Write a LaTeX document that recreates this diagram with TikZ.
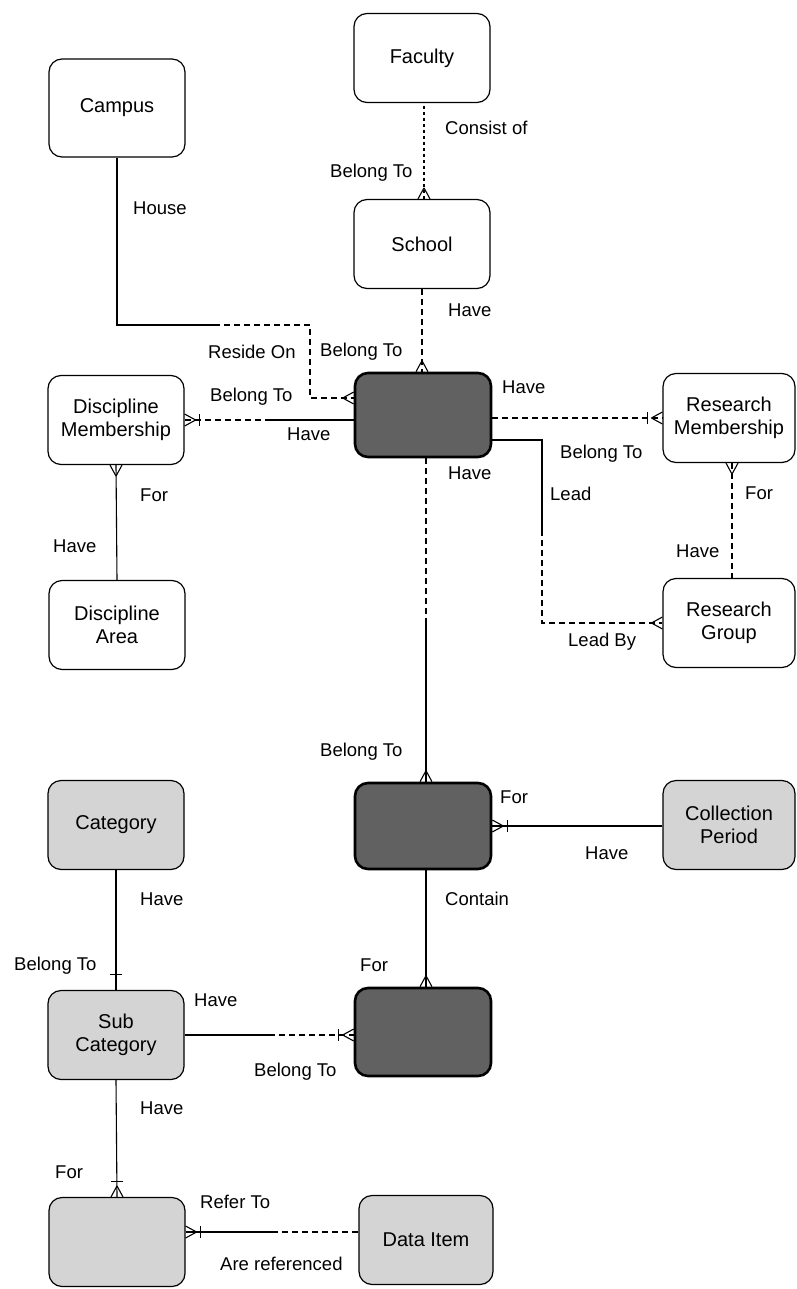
\documentclass[tikz,border=0pt]{standalone}
\usepackage{fontspec}
\setmainfont{Liberation Sans}
\usetikzlibrary{calc}
\begin{document}
\begin{tikzpicture}[x=1pt,y=-1pt,
  box/.style={draw, rounded corners=13pt, minimum width=136pt, minimum height=89pt, line width=1.2pt, align=center, font=\fontsize{20}{23}\selectfont, inner sep=0pt},
  darkbox/.style={box, fill=black!62, line width=2.6pt},
  lightbox/.style={box, fill=black!17},
  lbl/.style={anchor=west, font=\fontsize{18.5}{21}\selectfont, inner sep=0pt},
  ln/.style={line width=1.1pt},
  dl/.style={ln, dash pattern=on 6pt off 4pt},
  pics/crow/.style={code={\draw[ln,solid] (-11,0) -- (0,6) (-11,0) -- (0,-6);}},
  pics/bar/.style={code={\draw[ln,solid] (-15,-6) -- (-15,6);}},
]
\useasboundingbox (0,0) rectangle (796,1289);

% entities
\node[box] (faculty) at (422,58) {Faculty};
\node[box, minimum height=98pt] (campus) at (117,108) {Campus};
\node[box] (school) at (422,244) {School};
\node[darkbox, minimum height=84pt] (staff) at (423,415) {};
\node[box] (dm) at (116,420) {Discipline\\Membership};
\node[box, minimum width=132pt] (rm) at (729,418) {Research\\Membership};
\node[box] (da) at (117,625) {Discipline\\Area};
\node[box, minimum width=132pt] (rg) at (729,623) {Research\\Group};
\node[darkbox, minimum height=86pt] (dark2) at (423,826) {};
\node[lightbox, minimum width=132pt] (cp) at (729,825) {Collection\\Period};
\node[lightbox] (cat) at (116,825) {Category};
\node[lightbox] (sub) at (116,1035) {Sub\\Category};
\node[darkbox, minimum height=88pt] (dark3) at (423,1032) {};
\node[lightbox] (ca) at (117,1242) {};
\node[lightbox, minimum width=134pt] (di) at (426,1240) {Data Item};

% helper coordinates
\coordinate (k1) at (310,325);
\coordinate (k2) at (214,325);
\coordinate (r1) at (542,440);
\coordinate (r2) at (542,530);

% Faculty - School
\draw[dl, dash pattern=on 3pt off 3pt] ([xshift=2pt]school.north) -- ([xshift=2pt]school.north |- faculty.south);
\pic[rotate=-90] at ([xshift=2pt]school.north) {crow};
\node[lbl] at (445,128) {Consist of};
\node[lbl] at (330,173) {Belong To};

% Campus - Staff
\draw[ln] (campus.south) |- (k2);
\draw[dl] (k2) -- (k1) |- ([yshift=17pt]staff.west);
\pic at ([yshift=17pt]staff.west) {crow};
\node[lbl] at (133,208) {House};
\node[lbl] at (208,352) {Reside On};

% School - Staff
\draw[dl] (school.south) -- (school.south |- staff.north);
\pic[rotate=-90] at (school.south |- staff.north) {crow};
\node[lbl] at (448,310) {Have};
\node[lbl] at (320,352) {Belong To};

% Discipline Membership - Staff
\draw[dl] (dm.east) -- ($(dm.east)!0.5!(dm.east -| staff.west)$);
\draw[ln] ($(dm.east)!0.5!(dm.east -| staff.west)$) -- (dm.east -| staff.west);
\pic[rotate=180] at (dm.east) {crow};
\pic[rotate=180] at (dm.east) {bar};
\node[lbl] at (210,397) {Belong To};
\node[lbl] at (287,434) {Have};

% Staff - Research Membership
\draw[dl] (rm.west -| staff.east) -- (rm.west);
\pic at (rm.west) {crow};
\pic at (rm.west) {bar};
\node[lbl] at (502,387) {Have};
\node[lbl] at (560,454) {Belong To};

% Discipline Membership - Discipline Area
\draw[ln] (dm.south) -- (da.north);
\pic[rotate=90] at (dm.south) {crow};
\node[lbl] at (140,495) {For};
\node[lbl] at (53,546) {Have};

% Staff - Research Group
\draw[ln] ([yshift=-25pt]staff.east) -- (r1) -- (r2);
\draw[dl] (r2) |- (rg.west);
\pic at (rg.west) {crow};
\node[lbl] at (550,494) {Lead};
\node[lbl] at (568,642) {Lead By};

% Research Membership - Research Group
\draw[dl] ([xshift=3pt]rm.south) -- ([xshift=3pt]rg.north);
\pic[rotate=90] at ([xshift=3pt]rm.south) {crow};
\node[lbl] at (745,493) {For};
\node[lbl] at (676,551) {Have};

% Staff - dark2
\coordinate (s2mid) at ($([xshift=3pt]staff.south)!0.5!([xshift=3pt]dark2.north)$);
\draw[dl] ([xshift=3pt]staff.south) -- (s2mid);
\draw[ln] (s2mid) -- ([xshift=3pt]dark2.north);
\pic[rotate=-90] at ([xshift=3pt]dark2.north) {crow};
\node[lbl] at (448,473) {Have};
\node[lbl] at (320,752) {Belong To};

% dark2 - Collection Period
\draw[ln] (dark2.east) -- (dark2.east -| cp.west);
\pic[rotate=180] at (dark2.east) {crow};
\pic[rotate=180] at (dark2.east) {bar};
\node[lbl] at (500,797) {For};
\node[lbl] at (585,853) {Have};

% dark2 - dark3
\draw[ln] ([xshift=3pt]dark2.south) -- ([xshift=3pt]dark3.north);
\pic[rotate=-90] at ([xshift=3pt]dark3.north) {crow};
\node[lbl] at (445,899) {Contain};
\node[lbl] at (360,965) {For};

% Category - Sub Category
\draw[ln] (cat.south) -- (sub.north);
\pic[rotate=-90] at (sub.north) {bar};
\node[lbl] at (140,899) {Have};
\node[lbl] at (14,966) {Belong To};

% Sub Category - dark3
\draw[ln] (sub.east) -- ($(sub.east)!0.5!(sub.east -| dark3.west)$);
\draw[dl] ($(sub.east)!0.5!(sub.east -| dark3.west)$) -- (sub.east -| dark3.west);
\pic at (sub.east -| dark3.west) {crow};
\pic at (sub.east -| dark3.west) {bar};
\node[lbl] at (194,1000) {Have};
\node[lbl] at (254,1072) {Belong To};

% Sub Category - bottom-left entity
\draw[ln] (sub.south) -- (ca.north);
\pic[rotate=-90] at (ca.north) {crow};
\pic[rotate=-90] at (ca.north) {bar};
\node[lbl] at (140,1108) {Have};
\node[lbl] at (55,1172) {For};

% Data Item - bottom-left entity
\draw[ln] ([yshift=10pt]ca.east) -- ($([yshift=10pt]ca.east)!0.5!([yshift=10pt]ca.east -| di.west)$);
\draw[dl] ($([yshift=10pt]ca.east)!0.5!([yshift=10pt]ca.east -| di.west)$) -- ([yshift=10pt]ca.east -| di.west);
\pic[rotate=180] at ([yshift=10pt]ca.east) {crow};
\pic[rotate=180] at ([yshift=10pt]ca.east) {bar};
\node[lbl] at (200,1202) {Refer To};
\node[lbl] at (220,1264) {Are referenced};
\end{tikzpicture}
\end{document}
